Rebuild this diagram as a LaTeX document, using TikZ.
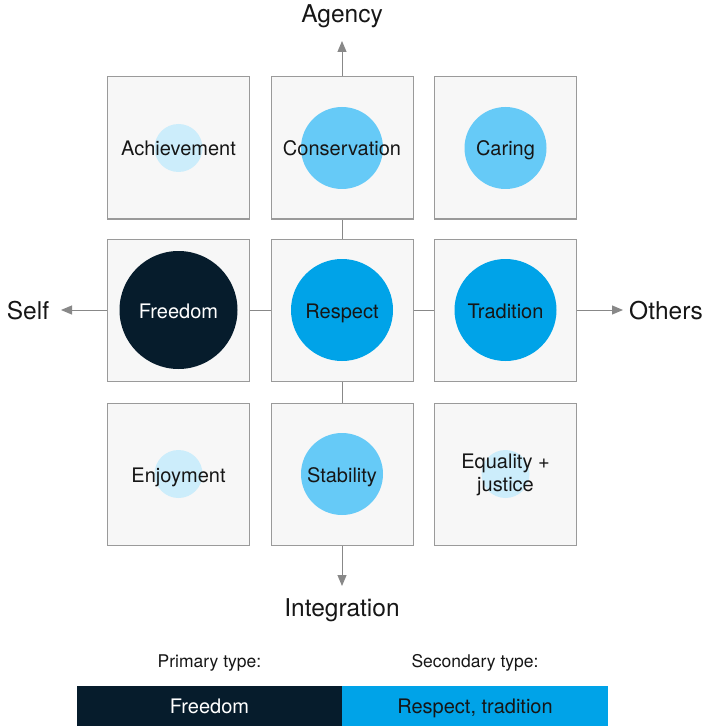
\documentclass[tikz,border=0pt]{standalone}
\usepackage{fontspec}
\setmainfont{TeX Gyre Heros}
\usetikzlibrary{arrows.meta}
\definecolor{navy}{HTML}{061C2C}
\definecolor{bright}{HTML}{00A3E8}
\definecolor{midblue}{HTML}{66CAF7}
\definecolor{pale}{HTML}{CCEDFB}
\definecolor{boxfill}{HTML}{F7F7F7}
\definecolor{boxline}{HTML}{9A9A9A}
\definecolor{axisgray}{HTML}{888888}
\definecolor{ink}{HTML}{161616}
\begin{document}
\begin{tikzpicture}[x=1pt,y=-1pt,
  cell/.style={draw=boxline,fill=boxfill,line width=1pt,minimum size=142pt,inner sep=0pt},
  blob/.style={circle,inner sep=0pt,minimum size=#1},
  lbl/.style={text=ink,font=\fontsize{20}{23}\selectfont,align=center},
  oneline/.style={text height=16pt,text depth=0pt},
  axlbl/.style={text=ink,font=\fontsize{24.5}{28}\selectfont},
  axisline/.style={draw=axisgray,line width=1pt,-{Triangle[length=11pt,width=9pt]}},
  bar/.style={minimum width=265pt,minimum height=40pt,inner sep=0pt,font=\fontsize{20}{23}\selectfont,text height=15pt,text depth=0pt}]
\useasboundingbox (0,0) rectangle (706,727);
% axes
\coordinate (cen) at (342,310);
\coordinate (top) at (342,41);
\coordinate (bot) at (342,586);
\coordinate (lft) at (61,310);
\coordinate (rgt) at (623,310);
\draw[axisline] (cen) -- (top);
\draw[axisline] (cen) -- (bot);
\draw[axisline] (cen) -- (lft);
\draw[axisline] (cen) -- (rgt);
% boxes
\node[cell] (b11) at (178.5,148) {};
\node[cell] (b12) at (342,148) {};
\node[cell] (b13) at (505.5,148) {};
\node[cell] (b21) at (178.5,310) {};
\node[cell] (b22) at (342,310) {};
\node[cell] (b23) at (505.5,310) {};
\node[cell] (b31) at (178.5,474) {};
\node[cell] (b32) at (342,474) {};
\node[cell] (b33) at (505.5,474) {};
% circles
\node[blob=48pt,fill=pale] (c11) at (b11.center) {};
\node[blob=82pt,fill=midblue] (c12) at (b12.center) {};
\node[blob=82pt,fill=midblue] (c13) at (b13.center) {};
\node[blob=118pt,fill=navy] (c21) at (b21.center) {};
\node[blob=102pt,fill=bright] (c22) at (b22.center) {};
\node[blob=102pt,fill=bright] (c23) at (b23.center) {};
\node[blob=48pt,fill=pale] (c31) at (b31.center) {};
\node[blob=82pt,fill=midblue] (c32) at (b32.center) {};
\node[blob=48pt,fill=pale] (c33) at (b33.center) {};
% labels
\node[lbl,oneline] (t11) at (c11.center) {Achievement};
\node[lbl,oneline] (t12) at (c12.center) {Conservation};
\node[lbl,oneline] (t13) at (c13.center) {Caring};
\node[lbl,oneline,text=white] (t21) at (c21.center) {Freedom};
\node[lbl,oneline] (t22) at (c22.center) {Respect};
\node[lbl,oneline] (t23) at (c23.center) {Tradition};
\node[lbl,oneline] (t31) at (c31.center) {Enjoyment};
\node[lbl,oneline] (t32) at (c32.center) {Stability};
\node[lbl,yshift=-1pt] (t33) at (c33.center) {Equality +\\justice};
% axis labels
\node[axlbl] (agency) at (342,16) {Agency};
\node[axlbl] (integ) at (342,610) {Integration};
\node[axlbl] (self) at (28,311) {Self};
\node[axlbl] (others) at (666,311) {Others};
% legend
\node[lbl,font=\fontsize{17.5}{21}\selectfont,yshift=-1pt] (prim) at (209.5,662) {Primary type:};
\node[lbl,font=\fontsize{17.5}{21}\selectfont,yshift=-1pt] (sec) at (475,662) {Secondary type:};
\node[bar,fill=navy,text=white] (pbar) at (209.5,706) {Freedom};
\node[bar,fill=bright,text=ink,minimum width=266pt] (sbar) at (475,706) {Respect, tradition};
\end{tikzpicture}
\end{document}
